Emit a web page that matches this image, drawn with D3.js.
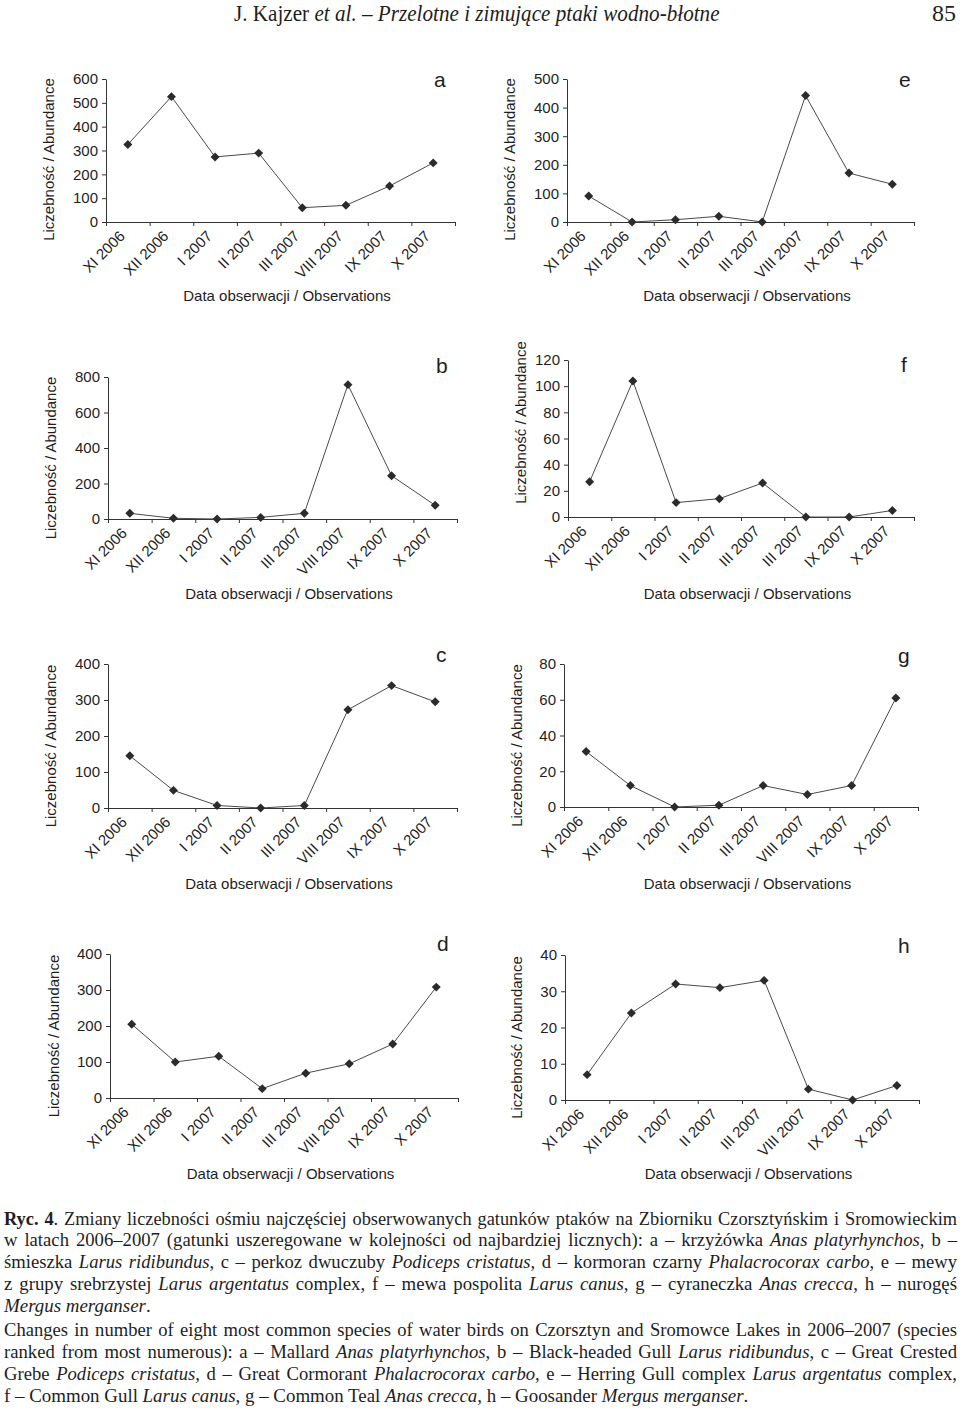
<!DOCTYPE html>
<html><head><meta charset="utf-8">
<script src="https://cdn.jsdelivr.net/npm/d3@7"></script>
<style>body{margin:0;background:#fff} svg{display:block}</style>
</head><body>
<svg id="c" width="960" height="1411"></svg>
<script>
// ---- data ----
const months  = ["XI 2006","XII 2006","I 2007","II 2007","III 2007","VIII 2007","IX 2007","X 2007"];
const monthsF = ["XI 2006","XII 2006","I 2007","II 2007","III 2007","III 2007","IX 2007","X 2007"]; // as printed in panel f
const valuesA = [325, 526, 273, 289, 60, 70, 151, 248];
const valuesB = [32, 4, 0, 9, 32, 757, 244, 77];
const valuesC = [145, 49, 7, 0, 7, 273, 340, 295];
const valuesD = [205, 100, 116, 26, 69, 95, 150, 308];
const valuesE = [91, 0, 8, 20, 0, 442, 171, 132];
const valuesF = [27, 104, 11, 14, 26, 0, 0, 5];
const valuesG = [31, 12, 0, 1, 12, 7, 12, 61];
const valuesH = [7, 24, 32, 31, 33, 3, 0, 4];
const ticksA = [0,100,200,300,400,500,600];
const ticksB = [0,200,400,600,800];
const ticksC = [0,100,200,300,400];
const ticksD = [0,100,200,300,400];
const ticksE = [0,100,200,300,400,500];
const ticksF = [0,20,40,60,80,100,120];
const ticksG = [0,20,40,60,80];
const ticksH = [0,10,20,30,40];
const yTitle = "Liczebność / Abundance";
const xTitle = "Data obserwacji / Observations";

// ---- layout ----
const panels = [
  {id:"a", labels:months,  vals:valuesA, ticks:ticksA, x0:106, x1:455, top:79,  bot:222,  lx:434, ly:87,  tdx:-57, tdy:9,   xt:301},
  {id:"e", labels:months,  vals:valuesE, ticks:ticksE, x0:567, x1:914, top:79,  bot:222,  lx:899, ly:87,  tdx:-57, tdy:9,   xt:301},
  {id:"b", labels:months,  vals:valuesB, ticks:ticksB, x0:108, x1:457, top:377, bot:519,  lx:436, ly:373, tdx:-57, tdy:10,  xt:599},
  {id:"f", labels:monthsF, vals:valuesF, ticks:ticksF, x0:568, x1:914, top:360, bot:517,  lx:901, ly:372, tdx:-47, tdy:-16, xt:599},
  {id:"c", labels:months,  vals:valuesC, ticks:ticksC, x0:108, x1:457, top:664, bot:808,  lx:436, ly:662, tdx:-57, tdy:10,  xt:889},
  {id:"g", labels:months,  vals:valuesG, ticks:ticksG, x0:564, x1:918, top:664, bot:807,  lx:898, ly:663, tdx:-47, tdy:10,  xt:889},
  {id:"d", labels:months,  vals:valuesD, ticks:ticksD, x0:110, x1:458, top:954, bot:1098, lx:437, ly:951, tdx:-56, tdy:10,  xt:1179},
  {id:"h", labels:months,  vals:valuesH, ticks:ticksH, x0:565, x1:919, top:955, bot:1100, lx:898, ly:953, tdx:-48, tdy:10,  xt:1179}
];

const svg = d3.select("#c");
svg.append("rect").attr("width",960).attr("height",1411).attr("fill","#fff");
const SANS = "'Liberation Sans', Arial, sans-serif";
const SERIF = "'Liberation Serif', 'Times New Roman', serif";
const ink = "#1e1e1e";

panels.forEach(p => {
  const g = svg.append("g");
  const x = d3.scaleLinear().domain([0, p.labels.length]).range([p.x0, p.x1]);
  const y = d3.scaleLinear().domain([0, d3.max(p.ticks)]).range([p.bot, p.top]);

  const ya = g.append("g").attr("transform", `translate(${p.x0},0)`)
    .call(d3.axisLeft(y).tickValues(p.ticks).tickSize(4).tickSizeOuter(0).tickPadding(4));
  const xa = g.append("g").attr("transform", `translate(0,${p.bot})`)
    .call(d3.axisBottom(x).tickValues(d3.range(p.labels.length + 1)).tickSize(4).tickSizeOuter(0).tickFormat(""));
  [ya, xa].forEach(a => {
    a.selectAll("path,line").attr("stroke", "#333").attr("stroke-width", 1);
    a.selectAll("text").attr("font-family", SANS).attr("font-size", 15).attr("fill", ink);
  });

  g.selectAll("text.xl").data(p.labels).join("text")
    .attr("class","xl")
    .attr("transform", (d,i) => `translate(${x(i+0.5)-2},${p.bot+15}) rotate(-45)`)
    .attr("text-anchor","end")
    .attr("font-family", SANS).attr("font-size", 15).attr("fill", ink)
    .text(d => d);

  const line = d3.line().x((d,i) => x(i+0.5)).y(d => y(d));
  g.append("path").datum(p.vals).attr("d", line)
    .attr("fill","none").attr("stroke","#4a4a4a").attr("stroke-width",1);

  g.selectAll("path.m").data(p.vals).join("path")
    .attr("class","m")
    .attr("d", d3.symbol().type(d3.symbolSquare).size(40))
    .attr("transform", (d,i) => `translate(${x(i+0.5)},${y(d)}) rotate(45)`)
    .attr("fill","#2b2b2b");

  g.append("text")
    .attr("transform", `translate(${p.x0 + p.tdx},${(p.top + p.bot)/2 + p.tdy}) rotate(-90)`)
    .attr("text-anchor","middle").attr("dy","0.35em")
    .attr("font-family", SANS).attr("font-size", 15).attr("fill", ink)
    .text(yTitle);

  g.append("text")
    .attr("x", (p.x0 + p.x1)/2 + 6.5).attr("y", p.xt)
    .attr("text-anchor","middle")
    .attr("font-family", SANS).attr("font-size", 15).attr("fill", ink)
    .text(xTitle);

  g.append("text")
    .attr("x", p.lx).attr("y", p.ly)
    .attr("font-family", SANS).attr("font-size", 21).attr("fill", ink)
    .text(p.id);
});

// ---- header ----
function addRich(parent, str) {
  str.split(/(\*\*[^*]+\*\*|_[^_]+_)/).filter(s => s.length).forEach(s => {
    const t = parent.append("tspan");
    if (s.startsWith("**")) t.attr("font-weight","bold").text(s.slice(2,-2));
    else if (s.startsWith("_")) t.attr("font-style","italic").text(s.slice(1,-1));
    else t.text(s);
  });
}
const headG = svg.append("g");
const head = headG.append("text").attr("x",0).attr("y",0)
  .attr("font-family", SERIF).attr("font-size",23).attr("fill",ink);
addRich(head, "J. Kajzer _et al._ – _Przelotne i zimujące ptaki wodno-błotne_");
const headLen = head.node().getComputedTextLength();
headG.attr("transform", `translate(234,21) scale(${486 / headLen},1)`);

const pageG = svg.append("g");
const page = pageG.append("text").attr("x",0).attr("y",0).attr("text-anchor","end")
  .attr("font-family", SERIF).attr("font-size",23).attr("fill",ink).text("85");
const pageLen = page.node().getComputedTextLength();
pageG.attr("transform", `translate(956,21) scale(${24 / pageLen},1)`);

// ---- caption ----
const captionLines = [
  ["**Ryc. 4**. Zmiany liczebności ośmiu najczęściej obserwowanych gatunków ptaków na Zbiorniku Czorsztyńskim i Sromowieckim", 1224.5, true],
  ["w latach 2006–2007 (gatunki uszeregowane w kolejności od najbardziej licznych): a – krzyżówka _Anas platyrhynchos_, b –", 1246, true],
  ["śmieszka _Larus ridibundus_, c – perkoz dwuczuby _Podiceps cristatus_, d – kormoran czarny _Phalacrocorax carbo_, e – mewy", 1268, true],
  ["z grupy srebrzystej _Larus argentatus_ complex, f – mewa pospolita _Larus canus_, g – cyraneczka _Anas crecca_, h – nurogęś", 1289.5, true],
  ["_Mergus merganser_.", 1311.5, false],
  ["Changes in number of eight most common species of water birds on Czorsztyn and Sromowce Lakes in 2006–2007 (species", 1336, true],
  ["ranked from most numerous): a – Mallard _Anas platyrhynchos_, b – Black-headed Gull _Larus ridibundus_, c – Great Crested", 1358, true],
  ["Grebe _Podiceps cristatus_, d – Great Cormorant _Phalacrocorax carbo_, e – Herring Gull complex _Larus argentatus_ complex,", 1380, true],
  ["f – Common Gull _Larus canus_, g – Common Teal _Anas crecca_, h – Goosander _Mergus merganser_.", 1402, false]
];
captionLines.forEach(([s, yy, just]) => {
  const t = svg.append("text").attr("x",4).attr("y",yy)
    .attr("font-family", SERIF).attr("font-size",18).attr("fill",ink);
  addRich(t, s);
  if (just) {
    const len = t.node().getComputedTextLength();
    const spaces = (s.match(/ /g) || []).length;
    t.style("word-spacing", ((953 - len) * 0.5 / spaces) + "px");
    t.attr("textLength", 953).attr("lengthAdjust", "spacingAndGlyphs");
  } else {
    const len = t.node().getComputedTextLength();
    t.attr("textLength", len * 1.05).attr("lengthAdjust", "spacingAndGlyphs");
  }
});
</script>
</body></html>
